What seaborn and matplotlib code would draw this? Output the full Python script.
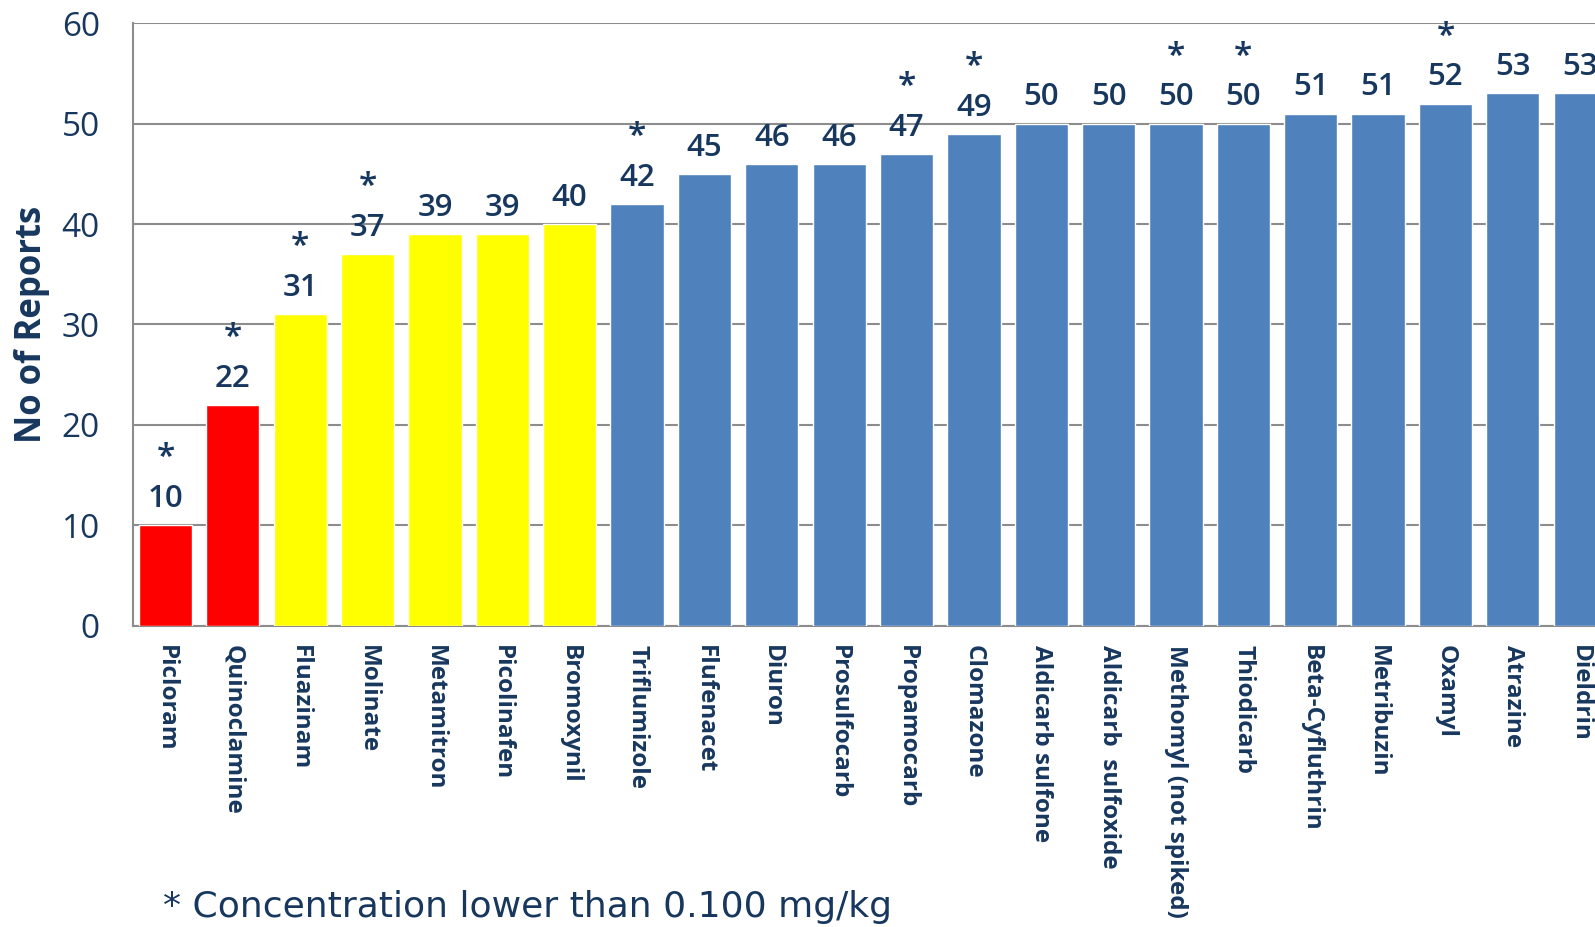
import matplotlib
matplotlib.use("Agg")
import matplotlib.pyplot as plt
import seaborn as sns
import pandas as pd

categories = ["Picloram", "Quinoclamine", "Fluazinam", "Molinate", "Metamitron",
              "Picolinafen", "Bromoxynil", "Triflumizole", "Flufenacet", "Diuron",
              "Prosulfocarb", "Propamocarb", "Clomazone", "Aldicarb sulfone",
              "Aldicarb  sulfoxide", "Methomyl (not spiked)", "Thiodicarb",
              "Beta-Cyfluthrin", "Metribuzin", "Oxamyl", "Atrazine", "Dieldrin"]
reports = [10, 22, 31, 37, 39, 39, 40, 42, 45, 46, 46, 47, 49, 50, 50, 50, 50, 51, 51, 52, 53, 53]
low_conc = [True, True, True, True, False, False, False, True, False, False, False,
            True, True, False, False, True, True, False, False, True, False, False]
groups = ["red", "red", "yellow", "yellow", "yellow", "yellow", "yellow"] + ["blue"] * 15
y_ticks = [0, 10, 20, 30, 40, 50, 60]
footnote = "* Concentration lower than 0.100 mg/kg"
y_label = "No of Reports"

palette = {"red": "#FF0000", "yellow": "#FFFF00", "blue": "#4F81BD"}
text_color = "#17375E"

df = pd.DataFrame({"cat": categories, "val": reports, "grp": groups})

sns.set_theme(style="white")
plt.rcParams["font.family"] = ["Open Sans", "DejaVu Sans"]

fig = plt.figure(figsize=(15.95, 9.27), dpi=100)
ax = fig.add_axes([0.0835, 0.325, 1.0 - 0.0835, 0.975 - 0.325])

sns.barplot(data=df, x="cat", y="val", hue="grp", palette=palette, dodge=False,
            width=0.79, legend=False, ax=ax, saturation=1, zorder=3)

ax.set_ylim(0, 60)
ax.set_xlim(-0.48, 21.22)
ax.set_yticks(y_ticks)
ax.set_yticklabels([str(t) for t in y_ticks], fontsize=24, color=text_color)
ax.tick_params(axis="y", length=0, pad=24)
ax.set_xticks(range(len(categories)))
ax.set_xticklabels(categories, rotation=-90, ha="center", va="top",
                   fontsize=17.5, fontweight="bold", color=text_color)
ax.tick_params(axis="x", length=0, pad=14)
ax.set_xlabel("")
ax.set_ylabel(y_label, fontsize=25, fontweight="bold", color=text_color, labelpad=8)

ax.grid(axis="y", color="#8C8C8C", linewidth=1.5, zorder=0)
ax.set_axisbelow(True)
for side in ["top", "right"]:
    ax.spines[side].set_visible(False)
for side in ["left", "bottom"]:
    ax.spines[side].set_color("#8C8C8C")
    ax.spines[side].set_linewidth(1.5)

for i, (v, star) in enumerate(zip(reports, low_conc)):
    ax.annotate(str(v), xy=(i, v), xytext=(0, 8), textcoords="offset points",
                ha="center", va="bottom", fontsize=22.5, fontweight="semibold",
                color=text_color, annotation_clip=False)
    if star:
        ax.annotate("*", xy=(i, v), xytext=(0, 36), textcoords="offset points",
                    ha="center", va="bottom", fontsize=24, fontweight="semibold",
                    color=text_color, annotation_clip=False)

fig.text(0.102, 0.022, footnote, fontsize=26, color=text_color,
         family=["DejaVu Sans"], ha="left", va="center")

fig.savefig("out.png", dpi=100)
